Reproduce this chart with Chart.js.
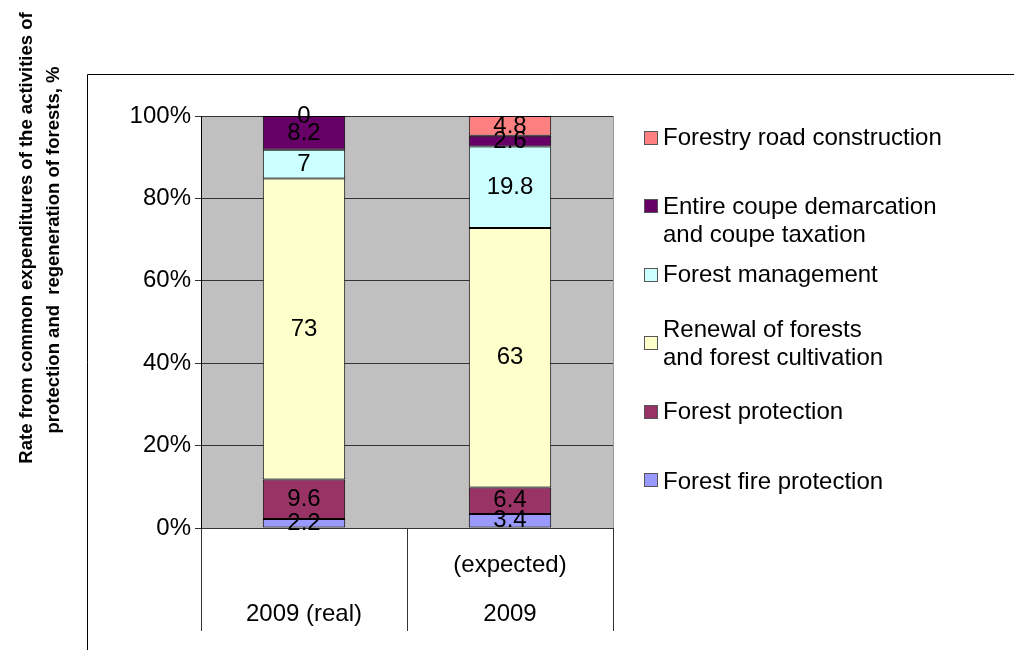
<!DOCTYPE html>
<html>
<head>
<meta charset="utf-8">
<script src="https://cdn.jsdelivr.net/npm/chart.js@4/dist/chart.umd.min.js"></script>
<style>
  html, body { margin: 0; padding: 0; background: #fff; }
  #wrap { width: 1014px; height: 650px; position: relative; }
</style>
</head>
<body>
<div id="wrap"><canvas id="chart" width="1014" height="650"></canvas></div>
<script>
// categories (multi-line labels, bottom line is the year)
const categories = [["", "2009 (real)"], ["(expected)", "2009"]];

// series, bottom of the stack first
const seriesNames = [
  "Forest fire protection",
  "Forest protection",
  "Renewal of forests\nand forest cultivation",
  "Forest management",
  "Entire coupe demarcation\nand coupe taxation",
  "Forestry road construction"
];
const fireProtection = [2.2, 3.4];
const forestProtection = [9.6, 6.4];
const renewal = [73, 63];
const management = [7, 19.8];
const coupeDemarcation = [8.2, 2.6];
const roadConstruction = [0, 4.8];

const yTicks = [0, 20, 40, 60, 80, 100];

const seriesValues = [fireProtection, forestProtection, renewal, management, coupeDemarcation, roadConstruction];
const seriesColors = ["#9999FF", "#993366", "#FFFFCC", "#CCFFFF", "#660066", "#FF8080"];

const FONT = "'Liberation Sans', Arial, sans-serif";
const FONT_SIZE = 24;

// background, plot fill and outer frame
const backgroundPlugin = {
  id: "background",
  beforeDraw(chart) {
    const { ctx, chartArea } = chart;
    ctx.save();
    ctx.fillStyle = "#fff";
    ctx.fillRect(0, 0, chart.width, chart.height);
    ctx.fillStyle = "#C0C0C0";
    ctx.fillRect(chartArea.left, chartArea.top, chartArea.right - chartArea.left, chartArea.bottom - chartArea.top);
    ctx.strokeStyle = "#000";
    ctx.lineWidth = 1;
    ctx.beginPath();
    ctx.moveTo(87.5, 650);
    ctx.lineTo(87.5, 74.5);
    ctx.lineTo(1014, 74.5);
    ctx.stroke();
    ctx.strokeStyle = "#999";
    ctx.beginPath();
    ctx.moveTo(chartArea.right + 0.5, chartArea.top);
    ctx.lineTo(chartArea.right + 0.5, chartArea.bottom);
    ctx.stroke();
    ctx.restore();
  }
};

// value labels centred in each segment
const valueLabelPlugin = {
  id: "valueLabels",
  afterDatasetsDraw(chart) {
    const ctx = chart.ctx;
    ctx.save();
    ctx.font = FONT_SIZE + "px " + FONT;
    ctx.fillStyle = "#000";
    ctx.textAlign = "center";
    ctx.textBaseline = "middle";
    chart.data.datasets.forEach((ds, i) => {
      chart.getDatasetMeta(i).data.forEach((bar, j) => {
        const y = (bar.y + bar.base) / 2;
        ctx.fillText(String(ds.data[j]), bar.x, y);
      });
    });
    ctx.restore();
  }
};

// legend on the right, top entry = top of the stack
const legendPlugin = {
  id: "sideLegend",
  afterDraw(chart) {
    const ctx = chart.ctx;
    const textY = [138, 207, 275, 330, 412, 482];
    const boxY = [138, 206, 275, 343, 412, 480];
    const items = chart.data.datasets.slice().reverse();
    ctx.save();
    ctx.font = FONT_SIZE + "px " + FONT;
    ctx.textAlign = "left";
    ctx.textBaseline = "middle";
    items.forEach((ds, k) => {
      ctx.fillStyle = ds.backgroundColor;
      ctx.fillRect(645, boxY[k] - 6, 12, 12);
      ctx.strokeStyle = "#555";
      ctx.lineWidth = 1;
      ctx.strokeRect(644.5, boxY[k] - 6.5, 13, 13);
      ctx.fillStyle = "#000";
      ds.label.split("\n").forEach((line, n) => {
        ctx.fillText(line, 663, textY[k] + n * 28);
      });
    });
    ctx.restore();
  }
};

// rotated two-line axis title
const axisTitlePlugin = {
  id: "axisTitle",
  afterDraw(chart) {
    const ctx = chart.ctx;
    const lines = [
      "Rate from common expenditures of the activities of",
      "protection and  regeneration of forests, %"
    ];
    const baseX = [32, 59];
    const centerY = [238, 250];
    ctx.save();
    ctx.font = "bold 18.5px " + FONT;
    ctx.fillStyle = "#000";
    ctx.textAlign = "center";
    ctx.textBaseline = "alphabetic";
    lines.forEach((line, i) => {
      ctx.save();
      ctx.translate(baseX[i], centerY[i]);
      ctx.rotate(-Math.PI / 2);
      ctx.fillText(line, 0, 0);
      ctx.restore();
    });
    ctx.restore();
  }
};

new Chart(document.getElementById("chart"), {
  type: "bar",
  data: {
    labels: categories,
    datasets: seriesValues.map((vals, i) => ({
      label: seriesNames[i],
      data: vals,
      backgroundColor: seriesColors[i],
      borderColor: "#000",
      borderWidth: 1,
      borderSkipped: false,
      categoryPercentage: 1,
      barPercentage: 0.4
    }))
  },
  options: {
    responsive: false,
    animation: false,
    layout: { padding: { left: 0, top: 116, right: 401, bottom: 0 } },
    plugins: {
      legend: { display: false },
      tooltip: { enabled: false }
    },
    scales: {
      x: {
        stacked: true,
        grid: {
          display: true,
          offset: true,
          drawOnChartArea: false,
          drawTicks: true,
          tickLength: 103,
          color: "#333"
        },
        border: { display: true, color: "#333" },
        ticks: {
          color: "#000",
          font: { family: FONT, size: FONT_SIZE, lineHeight: 49 / FONT_SIZE },
          padding: -90,
          maxRotation: 0,
          autoSkip: false
        },
        afterFit(scale) { scale.height = 122; }
      },
      y: {
        stacked: true,
        min: 0,
        max: 100,
        afterBuildTicks(scale) { scale.ticks = yTicks.map(v => ({ value: v })); },
        grid: { color: "#333", tickLength: 6 },
        border: { display: true, color: "#000" },
        ticks: {
          color: "#000",
          font: { family: FONT, size: FONT_SIZE },
          padding: 4,
          callback: v => v + "%"
        },
        afterFit(scale) { scale.width = 201; }
      }
    }
  },
  plugins: [backgroundPlugin, valueLabelPlugin, legendPlugin, axisTitlePlugin]
});
</script>
</body>
</html>
